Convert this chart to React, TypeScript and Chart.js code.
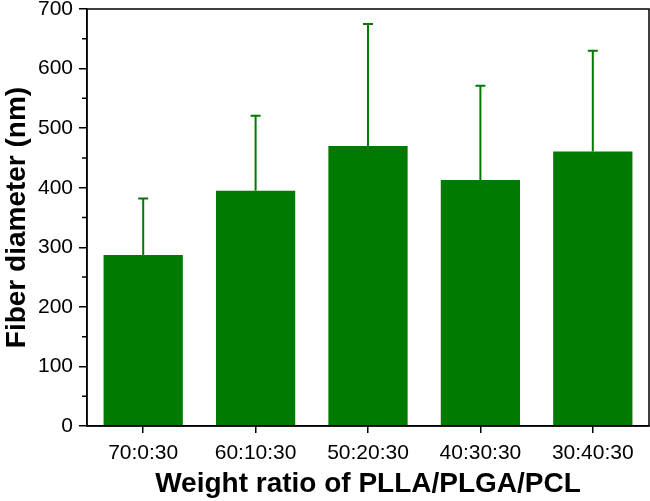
import React, { useEffect, useRef } from "react";
import { Chart, registerables } from "chart.js";

Chart.register(...registerables);

const categories = ["70:0:30", "60:10:30", "50:20:30", "40:30:30", "30:40:30"];
const meanDiameter = [287, 395, 470, 413, 461];
const errorUpper = [95, 126, 205, 158, 169];
const yTickValues = [0, 100, 200, 300, 400, 500, 600, 700];
const yMinorTicks = [50, 150, 250, 350, 450, 550, 650];

const GREEN = "#007a00";
const FONT = "'Liberation Sans', Arial, Helvetica, sans-serif";

const errorBarPlugin = {
  id: "errorBars",
  afterDatasetsDraw(chart: any) {
    const ctx = chart.ctx;
    const meta = chart.getDatasetMeta(0);
    const yScale = chart.scales.y;
    ctx.save();
    ctx.strokeStyle = GREEN;
    ctx.lineWidth = 2;
    meta.data.forEach((bar: any, i: number) => {
      const x = bar.x;
      const yTop = yScale.getPixelForValue(meanDiameter[i] + errorUpper[i]);
      const yBase = yScale.getPixelForValue(meanDiameter[i]);
      ctx.beginPath();
      ctx.moveTo(x, yBase);
      ctx.lineTo(x, yTop);
      ctx.moveTo(x - 5, yTop);
      ctx.lineTo(x + 5, yTop);
      ctx.stroke();
    });
    ctx.restore();
  },
};

const framePlugin = {
  id: "frame",
  afterDraw(chart: any) {
    const { ctx, chartArea } = chart;
    const yScale = chart.scales.y;
    ctx.save();
    ctx.strokeStyle = "#000";
    ctx.lineWidth = 1.5;
    ctx.strokeRect(chartArea.left, chartArea.top, chartArea.right - chartArea.left, chartArea.bottom - chartArea.top);
    ctx.beginPath();
    yMinorTicks.forEach((v) => {
      const y = yScale.getPixelForValue(v);
      ctx.moveTo(chartArea.left, y);
      ctx.lineTo(chartArea.left - 5, y);
    });
    ctx.stroke();
    ctx.restore();
  },
};

export default function App() {
  const canvasRef = useRef<HTMLCanvasElement | null>(null);

  useEffect(() => {
    if (!canvasRef.current) return;
    const chart = new Chart(canvasRef.current, {
      type: "bar",
      data: {
        labels: categories,
        datasets: [
          {
            data: meanDiameter,
            backgroundColor: GREEN,
            borderWidth: 0,
            barPercentage: 0.705,
            categoryPercentage: 1,
          },
        ],
      },
      options: {
        animation: false,
        responsive: false,
        devicePixelRatio: 1,
        layout: { padding: { top: 9, right: 1, left: 0, bottom: 0 } },
        plugins: { legend: { display: false }, tooltip: { enabled: false } },
        scales: {
          x: {
            grid: { offset: false, drawOnChartArea: false, drawTicks: true, tickLength: 7, color: "#000", lineWidth: 1.5 },
            border: { display: true, color: "#000", width: 1.5 },
            ticks: { color: "#000", font: { family: FONT, size: 21 }, padding: 8 },
            title: {
              display: true,
              text: "Weight ratio of PLLA/PLGA/PCL",
              color: "#000",
              font: { family: FONT, size: 28, weight: "bold" },
              padding: { top: 0, bottom: 0 },
            },
            afterFit(scale: any) {
              scale.height = 75;
              scale.paddingLeft = 0;
              scale.paddingRight = 0;
            },
          },
          y: {
            min: 0,
            max: 700,
            afterBuildTicks(scale: any) {
              scale.ticks = yTickValues.map((v) => ({ value: v }));
            },
            grid: { drawOnChartArea: false, drawTicks: true, tickLength: 8, color: "#000", lineWidth: 1.5 },
            border: { display: true, color: "#000", width: 1.5 },
            ticks: { color: "#000", font: { family: FONT, size: 21 }, padding: 6 },
            title: {
              display: true,
              text: "Fiber diameter (nm)",
              color: "#000",
              font: { family: FONT, size: 28, weight: "bold" },
              padding: { top: 0, bottom: 0 },
            },
            afterFit(scale: any) {
              scale.width = 87;
              scale.paddingTop = 0;
              scale.paddingBottom = 0;
            },
          },
        },
      },
      plugins: [errorBarPlugin, framePlugin],
    });
    return () => chart.destroy();
  }, []);

  return (
    <div style={{ position: "fixed", left: 0, top: 0, width: 650, height: 501, background: "#fff" }}>
      <canvas ref={canvasRef} width={650} height={501} />
    </div>
  );
}
